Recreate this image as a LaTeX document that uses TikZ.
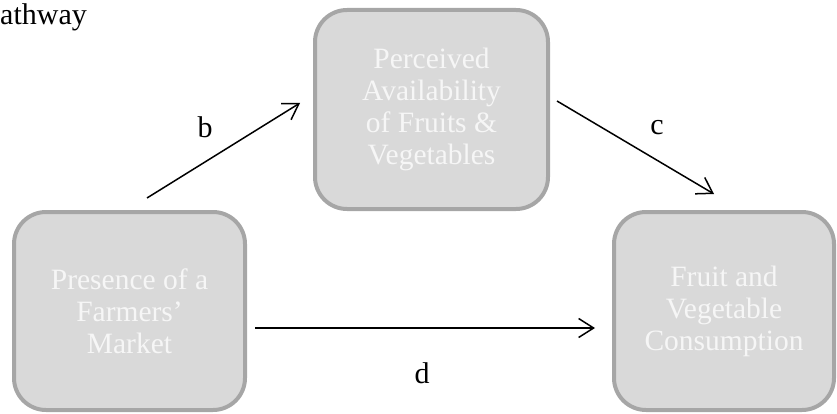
\documentclass[tikz,border=0pt]{standalone}
\usepackage{fontspec}
\setmainfont{Liberation Serif}
\usetikzlibrary{arrows.meta,calc}
\definecolor{BoxFill}{HTML}{D9D9D9}
\definecolor{BoxLine}{HTML}{A6A6A6}
\definecolor{BoxText}{HTML}{F6F6F6}
\tikzset{
    block/.style = {draw=BoxLine, fill=BoxFill, line width=4pt, rectangle,
        rounded corners=32pt, minimum height=198pt, align=center,
        text=BoxText, font=\fontsize{29.5}{32}\selectfont},
    arrow/.style = {draw, line width=1.5pt, -{Straight Barb[length=15pt,width=19pt]}},
    lbl/.style = {anchor=base, font=\fontsize{30}{34}\selectfont}
}

\begin{document}
\begin{tikzpicture}[x=1pt, y=1pt]
        \useasboundingbox (0,0) rectangle (837,413);
        \node [anchor=base west, inner sep=0pt, font=\fontsize{30}{34}\selectfont] (title) at (0,388) {athway};
        % boxes
        \node [block, minimum width=231pt] (market) at (129.5,102) {Presence of a\\Farmers'\\Market};
        \node [block, minimum width=233pt, minimum height=199pt] (avail) at (431.5,303.5) {Perceived\\Availability\\of Fruits \&\\Vegetables};
        \node [block, minimum width=220pt] (consume) at (724,102) {Fruit and\\Vegetable\\Consumption};
        % paths
        \draw [arrow] ([xshift=17.5pt,yshift=12pt]market.north) -- ([xshift=-13pt,yshift=6.5pt]avail.west);
        \draw [arrow] ([xshift=7pt,yshift=8.5pt]avail.east) -- ([xshift=-10pt,yshift=16pt]consume.north);
        \draw [arrow] ([xshift=8pt,yshift=-17pt]market.east) -- ([xshift=-17pt,yshift=-17pt]consume.west);
        \node [lbl] (lb) at (205,276) {b};
        \node [lbl] (lc) at (657,278) {c};
        \node [lbl] (ld) at (422,30) {d};
\end{tikzpicture}
\end{document}
